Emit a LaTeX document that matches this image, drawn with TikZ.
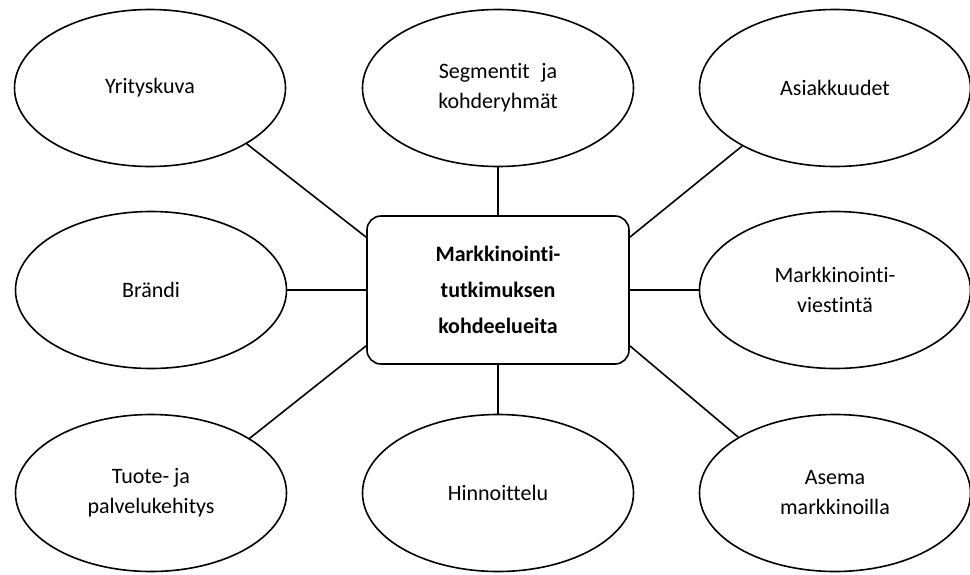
\documentclass[tikz,border=0pt]{standalone}
\usepackage{fontspec}
\setmainfont{Carlito}[Ligatures={NoCommon,NoRare,NoContextual}]
\usetikzlibrary{shapes.geometric,calc}
\begin{document}
\begin{tikzpicture}[x=1pt,y=-1pt,
  topic/.style={ellipse,draw,line width=1.6pt,minimum width=271pt,minimum height=157pt,inner sep=0pt,align=center,font=\fontsize{22}{30}\selectfont},
  centre/.style={draw,line width=1.6pt,rounded corners=14pt,minimum width=262pt,minimum height=148pt,inner sep=0pt,align=center,font=\fontsize{22}{36}\selectfont\bfseries},
  link/.style={line width=1.6pt}]
\useasboundingbox (0,0) rectangle (970,574);
\node[centre] (c) at (498,290) {Markkinointi-\\tutkimuksen\\kohdeelueita};
\node[topic] (y) at (150,88) {Yrityskuva};
\node[topic] (s) at (498,88) {Segmentit\hspace{0.3em} ja\\kohderyhmät};
\node[topic] (a) at (835,88) {Asiakkuudet};
\node[topic] (b) at (151,290) {Brändi};
\node[topic] (m) at (835,290) {Markkinointi-\\viestintä};
\node[topic] (t) at (151,493) {Tuote- ja\\palvelukehitys};
\node[topic] (h) at (498,493) {Hinnoittelu};
\node[topic] (p) at (835,493) {Asema\\markkinoilla};
\coordinate (c1) at ($(c.north west)+(0,22)$);
\coordinate (c2) at ($(c.north east)+(0,22)$);
\coordinate (c3) at ($(c.south west)+(0,-19)$);
\coordinate (c4) at ($(c.south east)+(0,-19)$);
\draw[link] (y.-30) -- (c1);
\draw[link] (a.-148) -- (c2);
\draw[link] (t.29) -- (c3);
\draw[link] (p.150) -- (c4);
\draw[link] (s.south) -- (c.north);
\draw[link] (h.north) -- (c.south);
\draw[link] (b.east) -- (c.west);
\draw[link] (m.west) -- (c.east);
\end{tikzpicture}
\end{document}
